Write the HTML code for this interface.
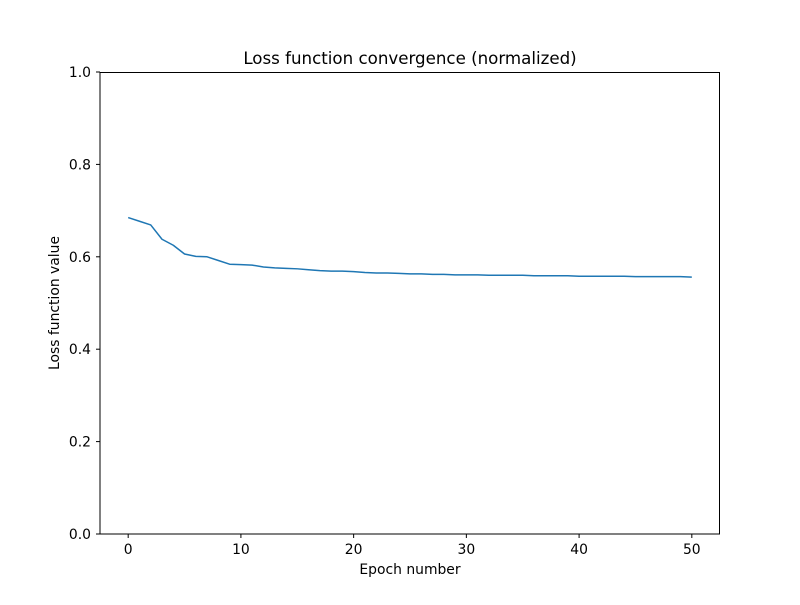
<!DOCTYPE html>
<html><head><meta charset="utf-8"><style>
body{margin:0;background:#fff;}
svg text{font-family:"DejaVu Sans","Liberation Sans",sans-serif;fill:#000;}
</style></head><body>
<svg id="chart" width="800" height="600">
<rect width="800" height="600" fill="#fff"/>
<text x="410" y="64" font-size="16.67" text-anchor="middle">Loss function convergence (normalized)</text>
<g id="axes"></g>
<rect x="100" y="72.5" width="619.5" height="461.5" fill="none" stroke="#000" stroke-width="1"/>
<text x="410" y="574" font-size="13.9" text-anchor="middle">Epoch number</text>
<text transform="translate(59,303) rotate(-90)" font-size="13.9" text-anchor="middle">Loss function value</text>
</svg>
<script>
const epochs = Array.from({length:51},(_, i)=>i);
const lossValues = [0.685,0.677,0.669,0.638,0.625,0.606,0.601,0.600,0.592,0.584,0.583,0.582,0.578,0.576,0.575,0.574,0.572,0.570,0.569,0.569,0.568,0.566,0.565,0.565,0.564,0.563,0.563,0.562,0.562,0.561,0.561,0.561,0.560,0.560,0.560,0.560,0.559,0.559,0.559,0.559,0.558,0.558,0.558,0.558,0.558,0.557,0.557,0.557,0.557,0.557,0.556];
const xTicks = [0,10,20,30,40,50];
const yTicks = [0.0,0.2,0.4,0.6,0.8,1.0];
const ns="http://www.w3.org/2000/svg";
const X = v => 100 + (v + 2.5) / 55 * 620;
const Y = v => 534 - v * 462;
const g = document.getElementById('axes');
function mk(t,a){const e=document.createElementNS(ns,t);for(const k in a)e.setAttribute(k,a[k]);g.appendChild(e);return e;}
xTicks.forEach(t=>{
  const l=mk('line',{x1:X(t),x2:X(t),y1:534,y2:538,stroke:'#000'});
  
  
  const tx=mk('text',{x:X(t),y:554,'font-size':13.9,'text-anchor':'middle'});tx.textContent=t;
  
  
});
yTicks.forEach(t=>{
  const l=mk('line',{x1:96,x2:100,y1:Y(t),y2:Y(t),stroke:'#000'});
  
  
  const tx=mk('text',{x:91,y:Y(t)+5,'font-size':13.9,'text-anchor':'end'});tx.textContent=t.toFixed(1);
  
  
});
const p=mk('polyline',{points:epochs.map((e,i)=>X(e)+','+Y(lossValues[i])).join(' '),fill:'none',stroke:'#1f77b4','stroke-width':1.5,'stroke-linejoin':'round'});


</script>
</body></html>
